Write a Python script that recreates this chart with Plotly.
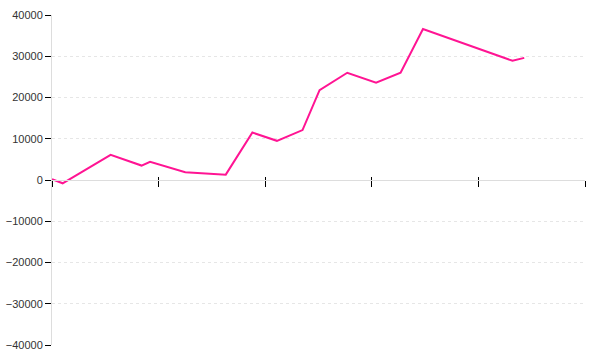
import plotly.graph_objects as go

x_vals = [0, 1.0, 5.5, 8.4, 9.2, 12.5, 16.3, 18.8, 21.1, 23.5, 25.1, 27.7, 30.4, 32.7, 34.8, 43.2, 44.3]
y_vals = [200, -800, 6100, 3500, 4400, 1900, 1300, 11500, 9500, 12100, 21800, 26000, 23600, 26000, 36600, 28900, 29600]
y_ticks = [-40000, -30000, -20000, -10000, 0, 10000, 20000, 30000, 40000]
y_tick_text = ["\u221240000", "\u221230000", "\u221220000", "\u221210000", "0",
               "10000", "20000", "30000", "40000"]
x_ticks = [0, 10, 20, 30, 40, 50]

fig = go.Figure()
fig.add_trace(go.Scatter(x=x_vals, y=y_vals, mode="lines",
                         line=dict(color="#ff1493", width=2), showlegend=False,
                         hoverinfo="skip"))
# overlay trace so the inner tick marks axis is drawn
fig.add_trace(go.Scatter(x=[0, 50], y=[0, 0], xaxis="x2", yaxis="y", mode="lines",
                         line=dict(width=0), showlegend=False, hoverinfo="skip"))

fig.update_layout(
    width=600, height=360,
    margin=dict(l=52, r=15, t=15, b=15),
    paper_bgcolor="white", plot_bgcolor="white",
    font=dict(family="Liberation Sans, Arial", size=11, color="#333333"),
    xaxis=dict(range=[0, 50], tickvals=x_ticks, showticklabels=False,
               showgrid=False, zeroline=False, showline=True, linecolor="#dddddd",
               linewidth=1, ticks="outside", ticklen=6, tickcolor="#000000",
               tickwidth=1, anchor="free", position=0.5, automargin=False),
    xaxis2=dict(range=[0, 50], tickvals=x_ticks, showticklabels=False,
                showgrid=False, zeroline=False, showline=False,
                ticks="inside", ticklen=3, tickcolor="#000000", tickwidth=1,
                overlaying="x", anchor="free", position=0.5, automargin=False),
    yaxis=dict(range=[-40000, 40000], tickvals=y_ticks, ticktext=y_tick_text,
               showgrid=True, gridcolor="#e6e6e6", griddash="dot", gridwidth=1,
               zeroline=False, showline=True, linecolor="#dddddd", linewidth=1,
               ticks="outside", ticklen=6, tickcolor="#000000", tickwidth=1,
               tickfont=dict(size=11, color="#333333"), automargin=False),
)

fig.write_html("out.html")
